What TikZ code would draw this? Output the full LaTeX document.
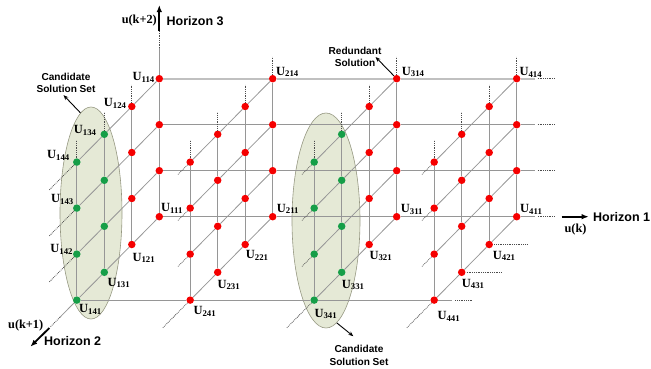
\documentclass[tikz,border=0pt]{standalone}
\usepackage{fontspec}
\setmainfont{Liberation Serif}
\setsansfont{Liberation Sans}
\usepackage{tikz}
\usetikzlibrary{arrows.meta,calc,shapes.geometric}

\definecolor{meshgray}{RGB}{150,150,150}
\definecolor{topgray}{RGB}{192,192,192}
\definecolor{dotred}{RGB}{245,0,0}
\definecolor{dotgreen}{RGB}{22,158,72}
\definecolor{setfill}{RGB}{229,233,214}
\definecolor{setedge}{RGB}{150,152,130}

\newcommand{\ulab}[1]{\textbf{U}\textsubscript{\textbf{#1}}}

\tikzset{
  meshline/.style={meshgray,line width=0.8pt},
  extline/.style={black!70,densely dotted,line width=0.8pt},
  gdot/.style={circle,inner sep=0pt,minimum size=7.5pt},
  ulabel/.style={inner sep=0pt,font=\fontsize{12.5}{14}\selectfont},
  axisarrow/.style={-{Latex[length=7pt,width=5.5pt]},line width=1.8pt},
  axistext/.style={inner sep=0pt,font=\sffamily\bfseries\fontsize{12.5}{15}\selectfont},
  vartext/.style={inner sep=0pt,font=\bfseries\fontsize{12.3}{14}\selectfont},
  notetext/.style={inner sep=0pt,align=center,font=\sffamily\bfseries\fontsize{10.1}{12.4}\selectfont},
  notearrow/.style={-{Stealth[length=5pt,width=4pt]},line width=0.9pt},
  setbox/.style={ellipse,draw=setedge,fill=setfill,line width=0.6pt,inner sep=0pt},
}

\begin{document}
\begin{tikzpicture}[x=1pt,y=-1pt]
  \useasboundingbox (0,0) rectangle (651,368);
  % candidate solution sets (behind the lattice)
  \node[setbox,minimum width=62pt,minimum height=212pt] (set1) at (91,213) {};
  \node[setbox,minimum width=68pt,minimum height=215pt] (set3) at (326,220.5) {};
  % lattice points U_ijk
  \foreach \i/\X in {1/159.3,2/272.7,3/396.7,4/516.7}
    \foreach \j in {1,...,4}
      \foreach \k in {1,...,4}{
        \def\dotcol{dotred}
        \ifodd\i\relax\ifnum\j>2\relax\def\dotcol{dotgreen}\fi\fi
        \node[gdot,fill=\dotcol] (u\i\j\k) at ({\X-27.5*(\j-1)},{216.7-46*(\k-1)+27.8*(\j-1)}) {};
      }
  % uprights (horizon 3)
  \foreach \i in {1,...,4}
    \foreach \j in {1,...,4}
      \draw[meshline] (u\i\j1) -- (u\i\j2) -- (u\i\j3) -- (u\i\j4);
  % diagonals (horizon 2)
  \foreach \i in {1,...,4}
    \foreach \k in {1,...,4}
      \draw[meshline] (u\i1\k) -- (u\i2\k) -- (u\i3\k) -- (u\i4\k);
  % rows (horizon 1)
  \foreach \k in {1,2,3}
    \draw[meshline] (u11\k) -- (u21\k) -- (u31\k) -- (u41\k) -- ++(18,0);
  \draw[topgray,line width=1.6pt] (u114) -- (u214) -- (u314) -- (u414) -- ++(18,0);
  \draw[meshline] (u141) -- (u241) -- (u341) -- (u441) -- ++(18,0);
  % dotted continuations
  \foreach \k in {1,...,4}
    \draw[extline] ($(u41\k)+(21,0)$) -- ++(17,0);
  \draw[extline] ($(u441)+(21,0)$) -- ++(17,0);
  \draw[extline] ($(u421)+(5,0)$) -- ++(33,0);
  \draw[extline] ($(u431)+(5,0)$) -- ++(35,0);
  \foreach \i in {1,...,4}
    \foreach \j in {1,...,4}{
      \ifnum\i\j=11\relax\else
        \draw[extline] ($(u\i\j4)+(0,-4)$) -- ++(0,-18);
      \fi
    }
  \foreach \k in {2,3,4}
    \draw[extline] (u14\k) -- ++(-27.5,27.8);
  \foreach \i in {2,3,4}{
    \draw[extline] (u\i41) -- ++(-27.5,27.8);
    \foreach \k in {2,3,4}
      \draw[extline] (u\i4\k) -- ++(-12.4,12.5);
  }
  % axes
  \draw[meshline] (u114) -- ++(0,-30.7) coordinate (h3a);
  \draw[extline] (h3a) -- ++(0,-17) coordinate (h3b);
  \draw[axisarrow] (h3b) -- ++(0,-26);
  \draw[meshline] (u141) -- ++(-16.8,17.1) coordinate (h2a);
  \draw[extline] (h2a) -- ++(-10,10.1) coordinate (h2b);
  \draw[axisarrow] ($(h2b)+(-0.6,0.6)$) -- ++(-19,18.8);
  \draw[axisarrow] ($(u411)+(45,0)$) -- ++(27,0);
  \node[axistext,anchor=west] (hor3) at (166.5,21) {Horizon 3};
  \node[vartext,anchor=east] (var3) at (157,21) {u(k+2)};
  \node[axistext,anchor=west] (hor1) at (593,216.7) {Horizon 1};
  \node[vartext] (var1) at (575.5,229.7) {u(k)};
  \node[axistext,anchor=west] (hor2) at (44,341) {Horizon 2};
  \node[vartext,anchor=west] (var2) at (8,326) {u(k+1)};
  % point names
  \foreach \n/\a/\dx/\dy in {111/west/1.7/-8, 211/west/4/-7.7, 311/west/4/-7.5,
      411/west/3.3/-7.4, 214/west/3.3/-6.7, 314/west/5/-6.7, 414/west/2.6/-6.2,
      121/west/0.5/13.5, 131/west/3/10.7, 141/west/2.2/9.4, 221/west/0.5/11,
      231/west/-0.4/12.7, 241/west/3.1/11.4, 321/west/0.1/11.5, 331/west/0/12.7,
      341/west/0.1/13.9, 421/west/3.5/11.5, 431/west/0/11.7, 441/west/3.1/16.4,
      114/east/-4.3/-1.5, 124/east/-5/-3.2, 134/east/-7.6/-3.8, 144/east/-6.8/-7,
      143/east/-2.8/-9, 142/east/-3.5/-4.6}
    \node[ulabel,anchor=\a] (l\n) at ($(u\n)+(\dx,\dy)$) {\ulab{\n}};
  % notes
  \node[notetext] (cs1) at (66,83) {Candidate\\Solution Set};
  \node[notetext] (rs) at (355,57) {Redundant\\Solution};
  \node[notetext] (cs3) at (359,355.3) {Candidate\\Solution Set};
  \draw[notearrow] (set1.96) -- ($(cs1.south)+(-2.5,2)$);
  \draw[notearrow] (u314) -- ($(rs.east)+(-6,0)$);
  \draw[notearrow] (set3.-84) -- ($(cs3.north)+(-5.7,-9)$);
\end{tikzpicture}
\end{document}
